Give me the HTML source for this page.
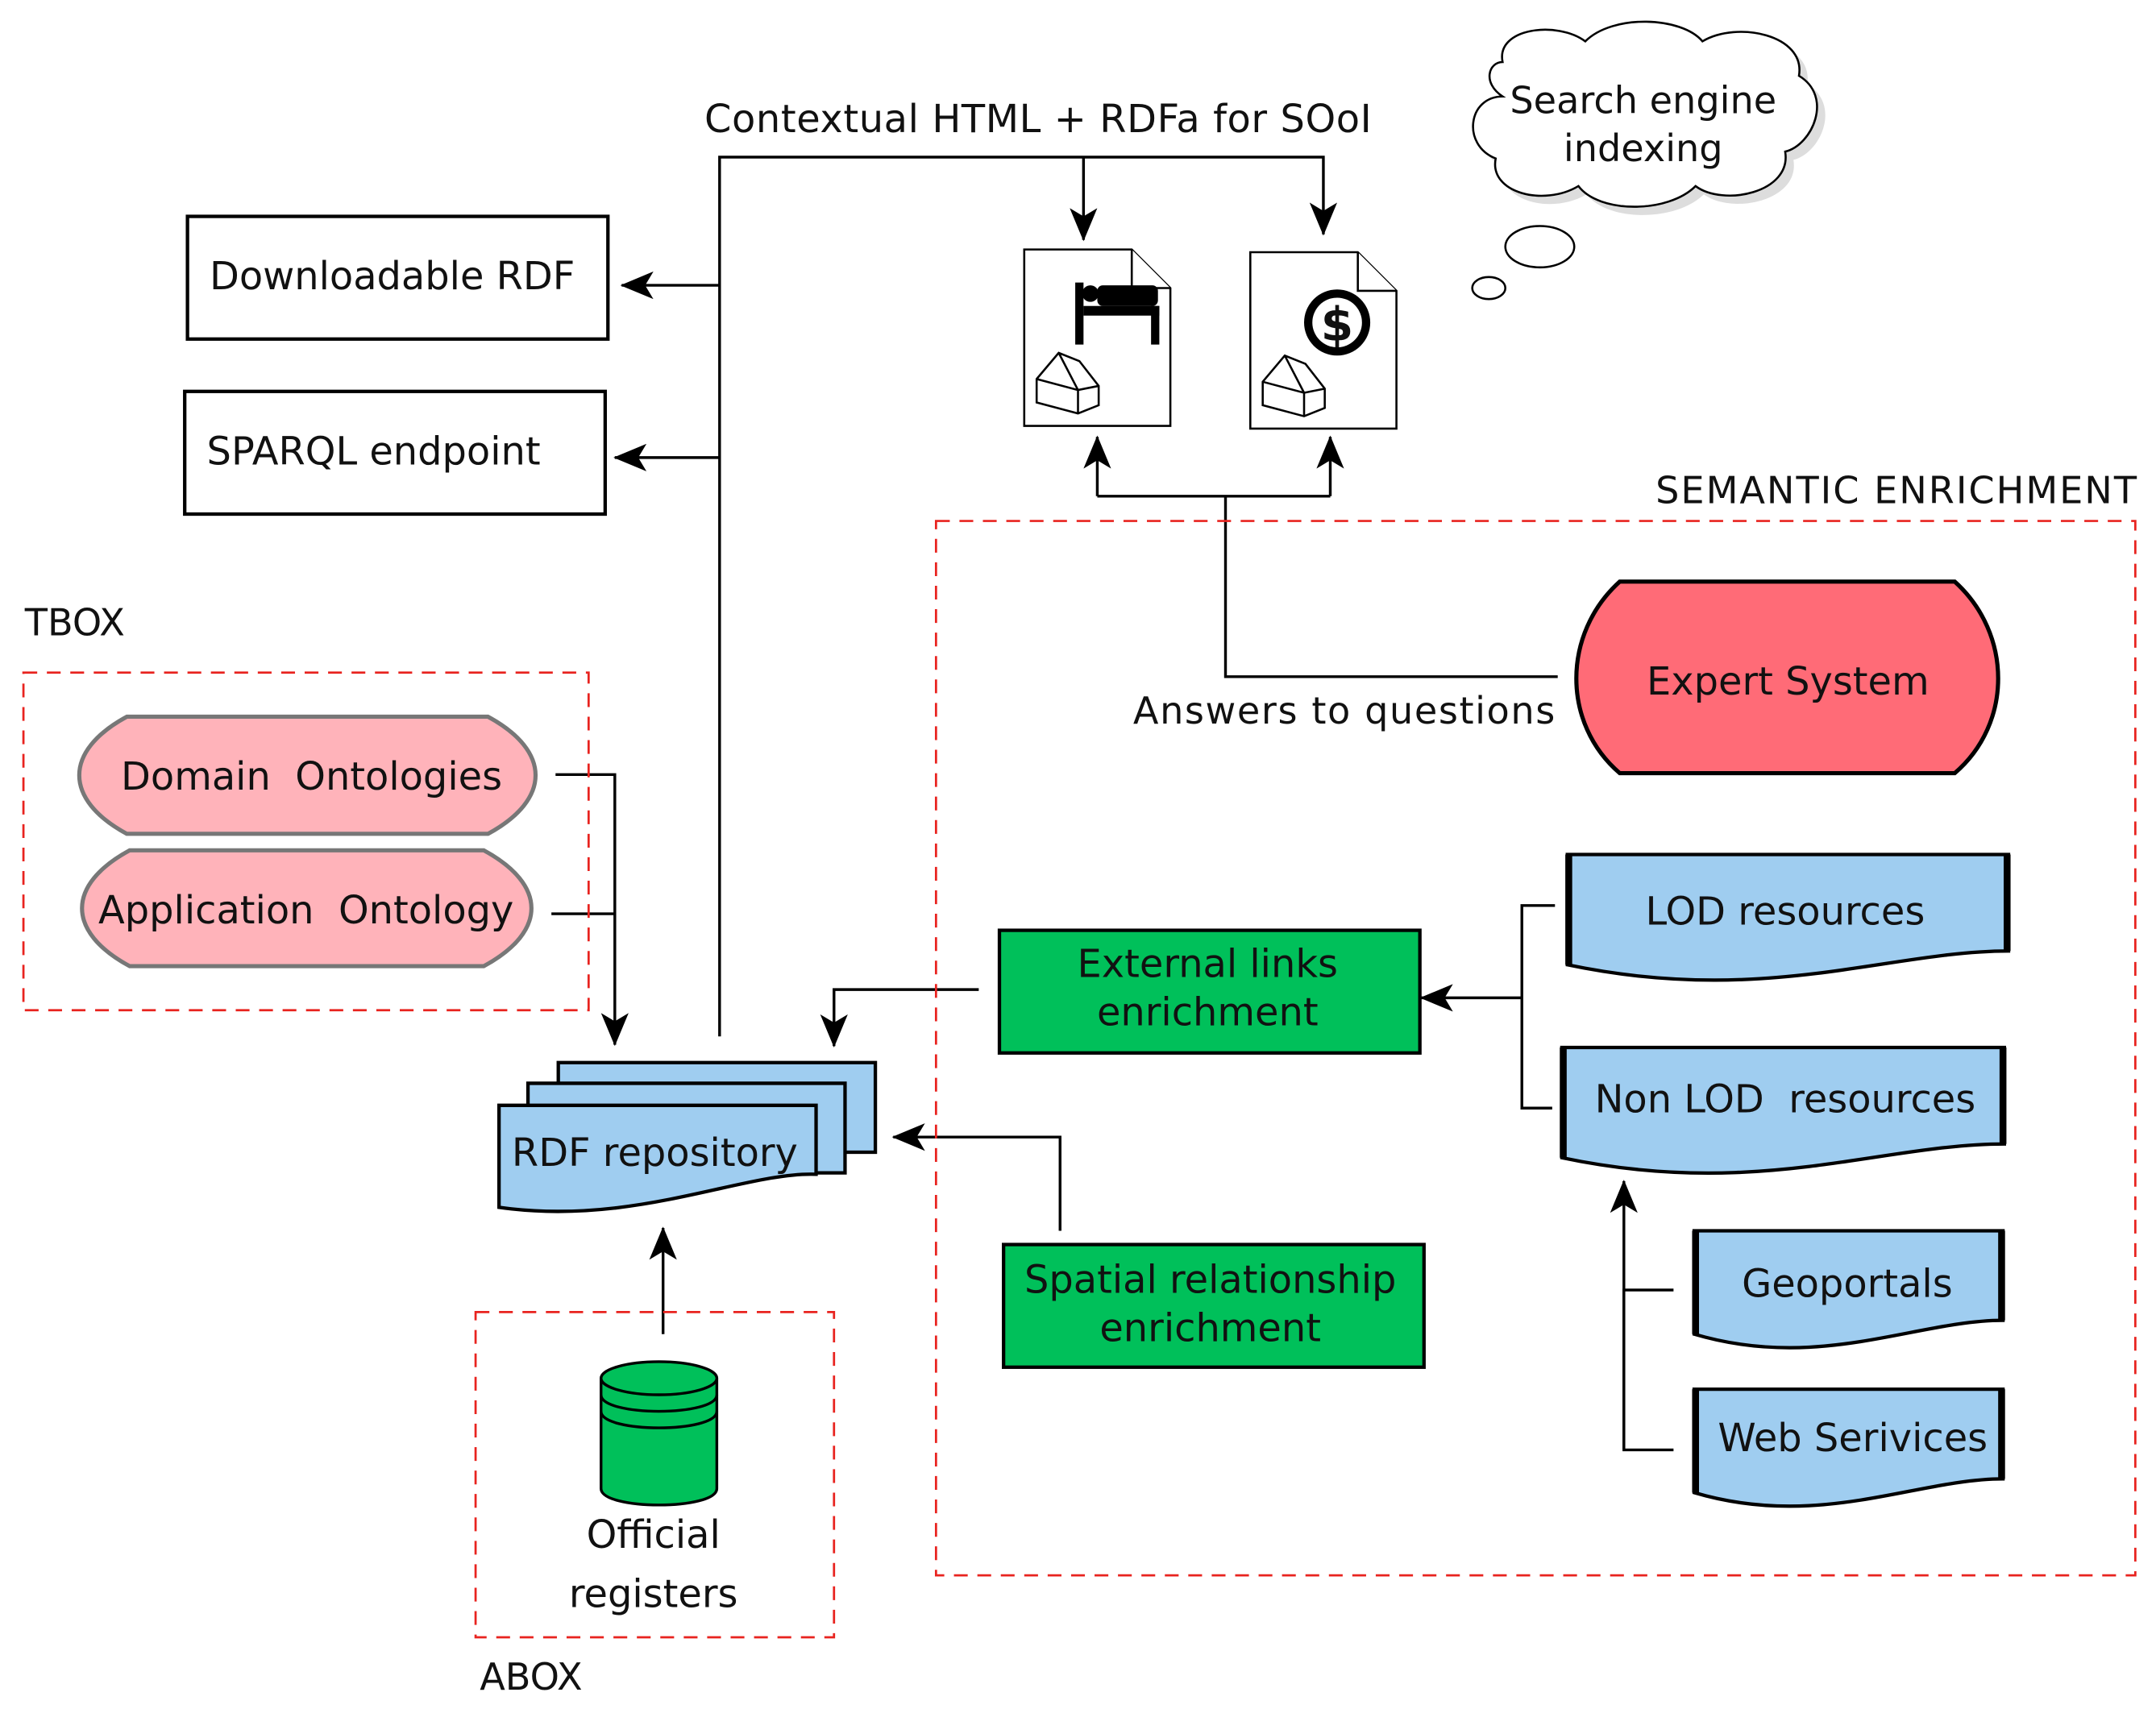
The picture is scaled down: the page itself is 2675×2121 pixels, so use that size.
<!DOCTYPE html>
<html><head><meta charset="utf-8"><style>
html,body{margin:0;padding:0;background:#fff;}
svg{display:block;}
text{font-family:"DejaVu Sans","Liberation Sans",sans-serif;fill:#111;}
</style></head><body>
<svg width="2675" height="2121" viewBox="0 0 1564 1240" preserveAspectRatio="none" xmlns="http://www.w3.org/2000/svg">
<defs>
<marker id="ar" markerWidth="24" markerHeight="20" refX="23" refY="10" orient="auto" markerUnits="userSpaceOnUse" viewBox="0 0 24 20">
<path d="M0,0 L24,10 L0,20 L6,10 Z" fill="#000"/></marker>
</defs>
<rect width="1564" height="1240" fill="#fff"/>
<g stroke="#000" stroke-width="2" fill="none">
<path d="M522,752 V114 H960 V170" marker-end="url(#ar)"/>
<path d="M786,114 V174" marker-end="url(#ar)"/>
<path d="M522,207 H451" marker-end="url(#ar)"/>
<path d="M522,332 H446" marker-end="url(#ar)"/>
<path d="M1130,491 H889 V360"/>
<path d="M796,360 H965"/>
<path d="M796,360 V317" marker-end="url(#ar)"/>
<path d="M965,360 V317" marker-end="url(#ar)"/>
<path d="M403,562 H446 V758" marker-end="url(#ar)"/>
<path d="M400,663 H446"/>
<path d="M710,718 H605 V759" marker-end="url(#ar)"/>
<path d="M769,893 V825 H648" marker-end="url(#ar)"/>
<path d="M481,968 V891" marker-end="url(#ar)"/>
<path d="M1128,657 H1104 V804 H1126"/>
<path d="M1104,724 H1031" marker-end="url(#ar)"/>
<path d="M1214,936 H1178 V1052 H1214"/>
<path d="M1178,1052 V857" marker-end="url(#ar)"/>
</g>
<g stroke="#e8231f" stroke-width="1.6" stroke-dasharray="10,7" fill="none">
<rect x="679" y="378" width="870" height="765"/>
<rect x="17" y="488" width="410" height="245"/>
<rect x="345" y="952" width="260" height="236"/>
</g>
<rect x="136" y="157" width="305" height="89" fill="#fff" stroke="#000" stroke-width="2.5"/>
<rect x="134" y="284" width="305" height="89" fill="#fff" stroke="#000" stroke-width="2.5"/>
<text x="152" y="210" font-size="28">Downloadable RDF</text>
<text x="150" y="337" font-size="28">SPARQL endpoint</text>
<text x="511" y="96" font-size="28" textLength="484">Contextual HTML + RDFa for SOoI</text>
<g stroke="#000" stroke-width="1.5" fill="#fff">
<path d="M743,181 H821 L849,209 V309 H743 Z"/><path d="M821,181 V209 H849"/>
<path d="M907,183 H985 L1013,211 V311 H907 Z"/><path d="M985,183 V211 H1013"/>
<path d="M752,275 L768,256 L783,262 L797,280 V294 L782,300 L752,292 Z M752,275 L782,283 L797,280 M782,283 V300 M768,256 L782,283"/>
<path d="M916,277 L932,258 L947,264 L961,282 V296 L946,302 L916,294 Z M916,277 L946,285 L961,282 M946,285 V302 M932,258 L946,285"/>
</g>
<g fill="#000">
<rect x="780" y="205" width="6" height="45"/><rect x="786" y="222" width="55" height="7"/><rect x="835" y="222" width="6" height="28"/>
<rect x="796" y="207" width="44" height="15" rx="4"/><circle cx="791" cy="213" r="6"/>
<circle cx="970" cy="234" r="24"/>
</g>
<circle cx="970" cy="234" r="18" fill="#fff"/>
<text x="970" y="247" font-size="34" font-weight="bold" text-anchor="middle">$</text>
<g fill="#fff" stroke="#000" stroke-width="1.5">
<path d="M1090,45 C1085,20 1130,15 1150,30 C1170,10 1220,12 1235,30 C1260,15 1310,25 1305,55 C1330,70 1315,105 1295,110 C1300,140 1250,150 1230,135 C1210,155 1160,155 1145,135 C1120,150 1080,140 1085,115 C1060,105 1065,70 1090,70 C1075,60 1080,45 1090,45 Z" fill="#ddd" stroke="none" transform="translate(6,6)"/>
<path d="M1090,45 C1085,20 1130,15 1150,30 C1170,10 1220,12 1235,30 C1260,15 1310,25 1305,55 C1330,70 1315,105 1295,110 C1300,140 1250,150 1230,135 C1210,155 1160,155 1145,135 C1120,150 1080,140 1085,115 C1060,105 1065,70 1090,70 C1075,60 1080,45 1090,45 Z"/>
<ellipse cx="1117" cy="179" rx="25" ry="15"/>
<ellipse cx="1080" cy="209" rx="12" ry="8"/>
</g>
<text x="1192" y="82" font-size="27" text-anchor="middle">Search engine</text>
<text x="1192" y="117" font-size="27" text-anchor="middle">indexing</text>
<text x="1201" y="365" font-size="27" textLength="349">SEMANTIC ENRICHMENT</text>
<text x="822" y="525" font-size="27" textLength="306">Answers to questions</text>
<path d="M1175,422 H1418 C1460,460 1460,525 1418,561 H1175 C1133,525 1133,460 1175,422 Z" fill="#ff6b77" stroke="#000" stroke-width="3"/>
<text x="1297" y="504" font-size="28" text-anchor="middle">Expert System</text>
<text x="18" y="461" font-size="27">TBOX</text>
<path d="M92,520 H354 C400,545 400,580 354,605 H92 C46,580 46,545 92,520 Z" fill="#ffb3ba" stroke="#777" stroke-width="3"/>
<path d="M94,617 H351 C397,642 397,676 351,701 H94 C48,676 48,642 94,617 Z" fill="#ffb3ba" stroke="#777" stroke-width="3"/>
<text x="226" y="573" font-size="28" text-anchor="middle" xml:space="preserve">Domain  Ontologies</text>
<text x="222" y="670" font-size="28" text-anchor="middle" xml:space="preserve">Application  Ontology</text>
<rect x="725" y="675" width="305" height="89" fill="#00c05a" stroke="#000" stroke-width="2.5"/>
<text x="876" y="709" font-size="28" text-anchor="middle">External links</text>
<text x="876" y="744" font-size="28" text-anchor="middle">enrichment</text>
<rect x="728" y="903" width="305" height="89" fill="#00c05a" stroke="#000" stroke-width="2.5"/>
<text x="878" y="938" font-size="28" text-anchor="middle">Spatial relationship</text>
<text x="878" y="973" font-size="28" text-anchor="middle">enrichment</text>
<g fill="#9fcdf0" stroke="#000" stroke-width="2.5">
<path d="M405,771 H635 V836 H405 Z"/>
<path d="M383,786 H613 V851 H383 Z"/>
<path d="M362,802 H592 V852 C540,850 460,890 362,876 Z"/>
<path d="M1137,620 H1457 V690 C1370,690 1280,730 1137,700 Z"/>
<path d="M1133,760 H1454 V830 C1365,830 1275,870 1133,840 Z"/>
<path d="M1229,893 H1453 V958 C1390,958 1320,995 1229,968 Z"/>
<path d="M1229,1008 H1453 V1073 C1390,1073 1320,1110 1229,1083 Z"/>
</g>
<g stroke="#000" stroke-width="5">
<path d="M1456,620 V690 M1138,620 V700 M1453,760 V830 M1134,760 V840 M1452,893 V958 M1230,893 V968 M1452,1008 V1073 M1230,1008 V1083"/>
</g>
<text x="475" y="846" font-size="28" text-anchor="middle">RDF repository</text>
<text x="1295" y="671" font-size="28" text-anchor="middle">LOD resources</text>
<text x="1295" y="807" font-size="28" text-anchor="middle" xml:space="preserve">Non LOD  resources</text>
<text x="1340" y="941" font-size="28" text-anchor="middle">Geoportals</text>
<text x="1344" y="1053" font-size="28" text-anchor="middle">Web Serivices</text>
<path d="M436,1000 V1080 C436,1096 520,1096 520,1080 V1000" fill="#00c05a" stroke="#000" stroke-width="2"/>
<ellipse cx="478" cy="1000" rx="42" ry="12" fill="#00c05a" stroke="#000" stroke-width="2"/>
<path d="M436,1012 C436,1028 520,1028 520,1012 M436,1024 C436,1040 520,1040 520,1024" fill="none" stroke="#000" stroke-width="2"/>
<text x="474" y="1123" font-size="28" text-anchor="middle">Official</text>
<text x="474" y="1166" font-size="28" text-anchor="middle">registers</text>
<text x="348" y="1226" font-size="27">ABOX</text>
</svg>
</body></html>
